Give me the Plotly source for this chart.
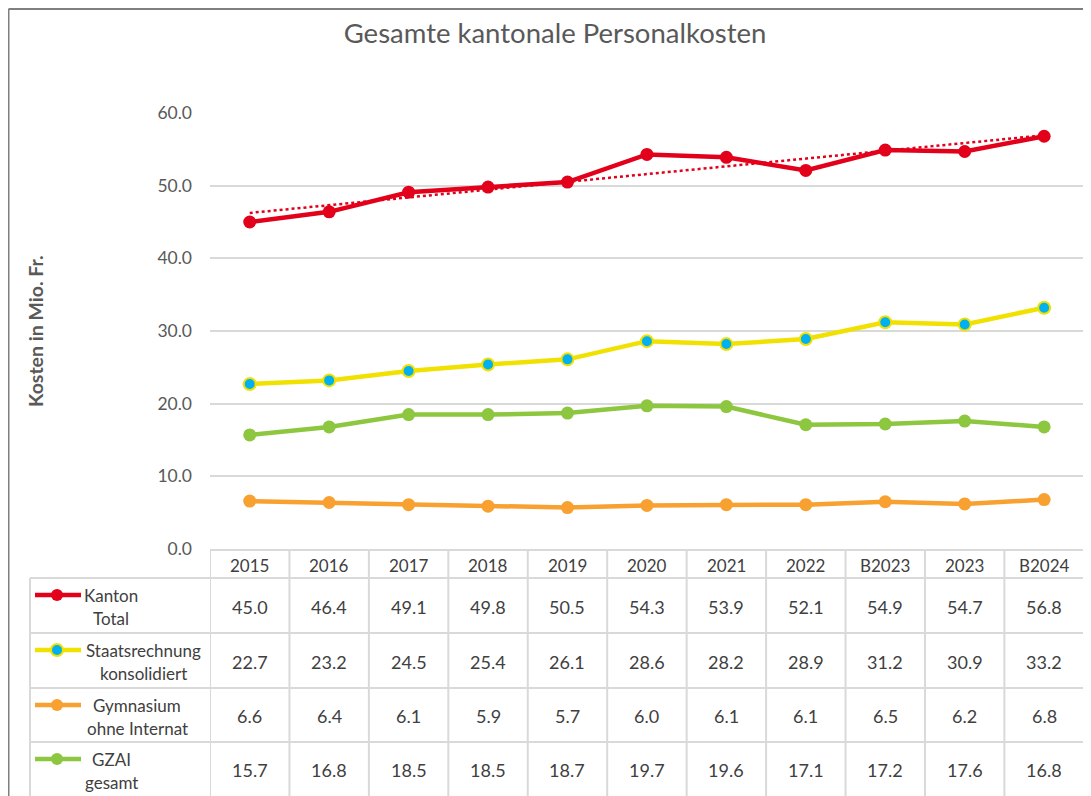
import numpy as np
import plotly.graph_objects as go

# data
years = ["2015", "2016", "2017", "2018", "2019", "2020", "2021", "2022", "B2023", "2023", "B2024"]
kanton_total = [45.0, 46.4, 49.1, 49.8, 50.5, 54.3, 53.9, 52.1, 54.9, 54.7, 56.8]
staatsrechnung = [22.7, 23.2, 24.5, 25.4, 26.1, 28.6, 28.2, 28.9, 31.2, 30.9, 33.2]
gymnasium = [6.6, 6.4, 6.1, 5.9, 5.7, 6.0, 6.1, 6.1, 6.5, 6.2, 6.8]
gzai = [15.7, 16.8, 18.5, 18.5, 18.7, 19.7, 19.6, 17.1, 17.2, 17.6, 16.8]

labels = [["Kanton", "Total"], ["Staatsrechnung", "konsolidiert"],
          ["Gymnasium", "ohne Internat"], ["GZAI", "gesamt"]]
label_cx = [111, 143, 137, 111]

RED = "#E2001A"
YELLOW = "#F0E100"
CYAN = "#00B0F0"
ORANGE = "#F8A030"
GREEN = "#8DC63F"
GRID = "#D9D9D9"
TXT = "#595959"
CELL = "#404040"
FONT = "Lato"

# page has an 8px body margin; let the figure run to the right/bottom edge
PAD = 8
W, H = 1091 - PAD, 796 - PAD
def px(x):
    return (x - PAD) / W
def py(y):
    return 1 - (y - PAD) / H

xs = list(range(len(years)))

# linear trend for Kanton total (Excel trendline)
k = np.polyfit(np.arange(1, len(years) + 1), kanton_total, 1)
trend = list(np.polyval(k, np.arange(1, len(years) + 1)))

fig = go.Figure()
fig.add_trace(go.Scatter(x=xs, y=gymnasium, mode="lines+markers", name="Gymnasium",
                         line=dict(color=ORANGE, width=4.5), marker=dict(size=13, color=ORANGE),
                         cliponaxis=False))
fig.add_trace(go.Scatter(x=xs, y=gzai, mode="lines+markers", name="GZAI",
                         line=dict(color=GREEN, width=4.5), marker=dict(size=13, color=GREEN),
                         cliponaxis=False))
fig.add_trace(go.Scatter(x=xs, y=staatsrechnung, mode="lines+markers", name="Staatsrechnung",
                         line=dict(color=YELLOW, width=4.5),
                         marker=dict(size=12, color=CYAN, line=dict(color=YELLOW, width=2)),
                         cliponaxis=False))
fig.add_trace(go.Scatter(x=xs, y=trend, mode="lines", name="Trend",
                         line=dict(color=RED, width=2.5, dash="dot")))
fig.add_trace(go.Scatter(x=xs, y=kanton_total, mode="lines+markers", name="Kanton",
                         line=dict(color=RED, width=4.5), marker=dict(size=13, color=RED),
                         cliponaxis=False))

shapes = []
ann = []

# chart border (top and left)
shapes.append(dict(type="line", xref="paper", yref="paper", x0=px(8.5), x1=1, y0=py(9), y1=py(9),
                   line=dict(color="#7F7F7F", width=2)))
shapes.append(dict(type="line", xref="paper", yref="paper", x0=px(8.5), x1=px(8.5), y0=py(9), y1=0,
                   line=dict(color="#7F7F7F", width=2)))

# data table
head_top, head_bot = 550, 578
row_tops = [578, 633, 688, 742]
row_bot = 796
tl = dict(color=GRID, width=2)
shapes.append(dict(type="line", xref="paper", yref="paper", x0=px(210), x1=1,
                   y0=py(head_top), y1=py(head_top), line=tl))
for rt in row_tops:
    shapes.append(dict(type="line", xref="paper", yref="paper", x0=px(30), x1=1,
                       y0=py(rt), y1=py(rt), line=tl))
shapes.append(dict(type="line", xref="paper", yref="paper", x0=px(30), x1=px(30),
                   y0=py(row_tops[0]), y1=0, line=tl))
for i in range(len(years)):
    shapes.append(dict(type="line", xref="x", yref="paper", x0=i - 0.5, x1=i - 0.5,
                       y0=py(head_top), y1=0, line=tl))

for i, yr in enumerate(years):
    ann.append(dict(x=i, y=py((head_top + head_bot) / 2 + 1), xref="x", yref="paper", text=yr,
                    xanchor="center", yanchor="middle", showarrow=False,
                    font=dict(size=17, color=CELL, family=FONT)))

series = [kanton_total, staatsrechnung, gymnasium, gzai]
colors = [RED, YELLOW, ORANGE, GREEN]
bots = row_tops[1:] + [row_bot]
for r, (vals, rt, rb) in enumerate(zip(series, row_tops, bots)):
    for i, v in enumerate(vals):
        ann.append(dict(x=i, y=py((rt + rb) / 2 + 1), xref="x", yref="paper", text=f"{v:.1f}",
                        xanchor="center", yanchor="middle", showarrow=False,
                        font=dict(size=18, color=CELL, family=FONT)))
    for j, line in enumerate(labels[r]):
        ann.append(dict(x=px(label_cx[r]), y=py(rt + 17 + 23 * j), xref="paper", yref="paper",
                        text=line, xanchor="center", yanchor="middle", showarrow=False,
                        font=dict(size=17, color=CELL, family=FONT)))
    # legend key
    ky = py(rt + 17)
    shapes.append(dict(type="line", xref="paper", yref="paper", x0=px(35), x1=px(81),
                       y0=ky, y1=ky, line=dict(color=colors[r], width=4.5)))
    fill = CYAN if r == 1 else colors[r]
    shapes.append(dict(type="circle", xref="paper", yref="paper",
                       x0=px(51), x1=px(63), y0=py(rt + 11), y1=py(rt + 23),
                       fillcolor=fill, line=dict(color=colors[r], width=2 if r == 1 else 0)))

# y-axis title
ann.append(dict(x=px(35), y=py(331), xref="paper", yref="paper", text="<b>Kosten in Mio. Fr.</b>",
                xanchor="center", yanchor="middle", textangle=-90, showarrow=False,
                font=dict(size=19.5, color=TXT, family=FONT)))

# the last column runs a few pixels past the window edge
fig.update_layout(
    width=W, height=H,
    margin=dict(l=0, r=0, t=0, b=0, autoexpand=False),
    paper_bgcolor="white", plot_bgcolor="white",
    showlegend=False,
    title=dict(text="Gesamte kantonale Personalkosten", x=px(555), xanchor="center",
               y=py(33), yanchor="middle", font=dict(size=27.5, color=TXT, family=FONT)),
    xaxis=dict(domain=[px(210), 1], range=[-0.5, 10.59], showticklabels=False,
               showgrid=False, zeroline=False, showline=False, automargin=False),
    yaxis=dict(domain=[py(549), py(113)], range=[0, 60], dtick=10, tickformat=".1f",
               showgrid=True, gridcolor=GRID, gridwidth=1.5, zeroline=False, automargin=False,
               ticklabelstandoff=17, tickfont=dict(size=17.5, color=TXT, family=FONT)),
    shapes=shapes, annotations=ann,
)

fig.write_html("out.html")
